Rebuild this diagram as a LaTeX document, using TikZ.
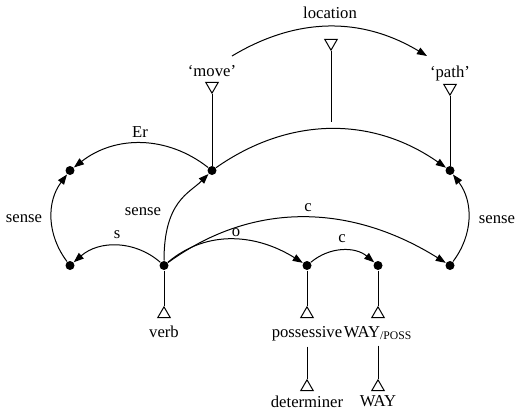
\documentclass[tikz,border=0pt]{standalone}
\usepackage{fontspec}
\setmainfont{Liberation Serif}
\usetikzlibrary{arrows.meta,shapes.geometric}
\begin{document}
\begin{tikzpicture}[x=0.6pt,y=0.6pt,line width=0.6pt,
  dot/.style={circle,fill=black,inner sep=0pt,minimum size=5.4pt},
  isadown/.style={regular polygon,regular polygon sides=3,shape border rotate=180,draw,fill=white,inner sep=0pt,minimum size=8.6pt},
  isaup/.style={regular polygon,regular polygon sides=3,draw,fill=white,inner sep=0pt,minimum size=8.6pt},
  word/.style={anchor=base},
  rel/.style={-{Triangle[length=6pt,width=4.4pt]}}]
\useasboundingbox (0,0) rectangle (520,409);
% dots
\node[dot] (A) at (70,238.5) {};
\node[dot] (M) at (212,238.5) {};
\node[dot] (P) at (450,238.5) {};
\node[dot] (L) at (70,143.5) {};
\node[dot] (V) at (164,143.5) {};
\node[dot] (Po) at (307,143.5) {};
\node[dot] (W) at (378,143.5) {};
\node[dot] (R) at (450,143.5) {};
% isa triangles
\node[isadown] (tmove) at (212,323) {};
\node[isadown] (tloc) at (331,366) {};
\node[isadown] (tpath) at (450,321) {};
\node[isaup] (tverb) at (164,95) {};
\node[isaup] (tposs) at (307,95) {};
\node[isaup] (tway) at (378,95) {};
\node[isaup] (tdet) at (307,22) {};
\node[isaup] (twaytwo) at (378,22) {};
\coordinate (locB) at (331,287);
\coordinate (locS) at (232,353);
\coordinate (locE) at (427,353);
% words
\node[word] (wmove) at (212,333) {‘move’};
\node[word] (wpath) at (450,332) {‘path’};
\node[word] (wloc) at (330,391) {location};
\node[word] (wer) at (140,272) {Er};
\node[word] (wsenseL) at (24,187) {sense};
\node[word] (wsenseM) at (143,194) {sense};
\node[word] (wsenseR) at (497,186) {sense};
\node[word] (ws) at (117,171) {s};
\node[word] (wo) at (236,173) {o};
\node[word] (wcU) at (308,198) {c};
\node[word] (wcL) at (342,167) {c};
\node[word] (wverb) at (164,72) {verb};
\node[word] (wposs) at (307,72) {possessive};
\node[word] (wwayposs) at (378,72) {WAY\textsubscript{/POSS}};
\node[word] (wdet) at (307,2) {determiner};
\node[word] (wway) at (378,3) {WAY};
% isa lines
\draw (M) -- (tmove);
\draw (P) -- (tpath);
\draw (tloc) -- (locB);
\draw (V) -- (tverb);
\draw (Po) -- (tposs);
\draw (W) -- (tway);
\draw (wposs) -- (tdet);
\draw (wwayposs) -- (twaytwo);
% relations
\draw[rel] (locS) to[out=31,in=149] (locE);
\draw[rel] (M) to[out=142,in=38] (A);
\draw[rel] (M) to[out=35,in=145] (P);
\draw[rel] (L) to[out=127,in=233] (A);
\draw[rel] (R) to[out=53,in=307] (P);
\draw[rel] (V) to[out=90,in=225,out looseness=1.56,in looseness=0.72] (M);
\draw[rel] (V) to[out=139,in=41] (L);
\draw[rel] (V) to[out=36,in=148] (R);
\draw[rel] (V) to[out=40,in=148] (Po);
\draw[rel] (Po) to[out=40,in=140] (W);
\end{tikzpicture}
\end{document}
